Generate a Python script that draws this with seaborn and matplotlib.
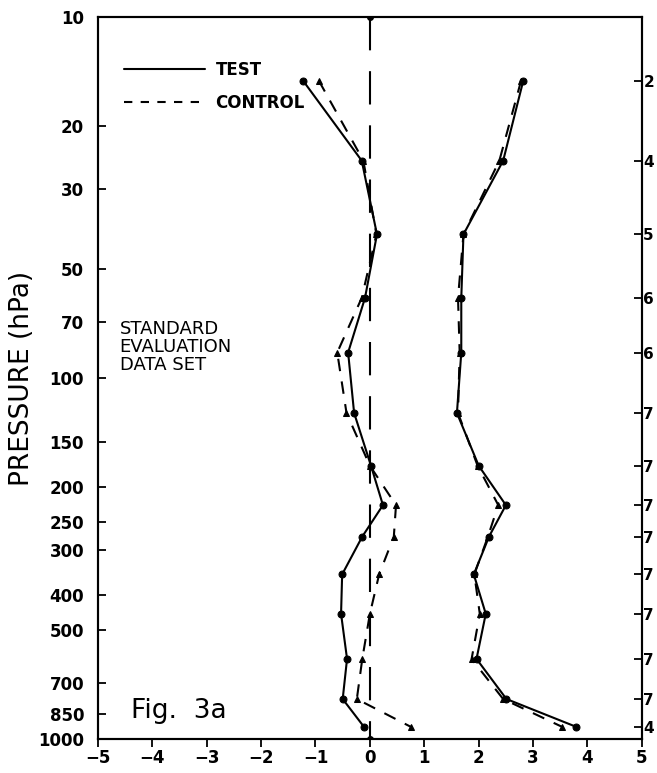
import numpy as np
import pandas as pd
import matplotlib
matplotlib.use('Agg')
import matplotlib.pyplot as plt
import seaborn as sns
from matplotlib.lines import Line2D
from matplotlib.ticker import NullLocator, FixedLocator, FixedFormatter

# niveles (punto medio de cada capa, hPa)
levels = [15, 25, 40, 60, 85, 125, 175, 225, 275, 350, 450, 600, 775, 925]

# sesgo (curvas de la izquierda)
bias_test = [-1.23, -0.15, 0.13, -0.09, -0.40, -0.29, 0.02, 0.24, -0.14, -0.51, -0.53, -0.42, -0.50, -0.11]
bias_control = [-0.94, -0.12, 0.12, -0.15, -0.60, -0.43, 0.00, 0.48, 0.44, 0.17, 0.00, -0.14, -0.24, 0.75]

# rms (curvas de la derecha)
rms_test = [2.82, 2.45, 1.72, 1.68, 1.68, 1.60, 2.00, 2.50, 2.19, 1.91, 2.13, 1.96, 2.51, 3.79]
rms_control = [2.78, 2.38, 1.72, 1.62, 1.65, 1.62, 1.98, 2.36, 2.17, 1.92, 2.02, 1.87, 2.45, 3.53]

# etiquetas del eje derecho (recortadas en el original)
right_labels = ['2', '4', '5', '6', '6', '7', '7', '7', '7', '7', '7', '7', '7', '4']

pressure_ticks = [10, 20, 30, 50, 70, 100, 150, 200, 250, 300, 400, 500, 700, 850, 1000]
x_ticks = [-5, -4, -3, -2, -1, 0, 1, 2, 3, 4, 5]
zero_line_x = [0, 0]
zero_line_p = [10, 1000]

sns.set_style('ticks')
plt.rcParams['font.family'] = ['DejaVu Sans']
plt.rcParams['text.color'] = 'black'
plt.rcParams['axes.labelcolor'] = 'black'
plt.rcParams['xtick.color'] = 'black'
plt.rcParams['ytick.color'] = 'black'
plt.rcParams['axes.edgecolor'] = 'black'

fig = plt.figure(figsize=(6.57, 7.73), dpi=100)
ax = fig.add_axes([0.149, 0.044, 0.828, 0.934])

def curve(x, y, ls, marker, ms):
    sns.lineplot(x=x, y=y, sort=False, estimator=None, ax=ax, color='black',
                 linestyle=ls, linewidth=1.5, marker=marker, markersize=ms,
                 markeredgecolor='black', markerfacecolor='black')

curve(bias_test, levels, '-', 'o', 5)
curve(bias_control, levels, (0, (6, 5)), '^', 5)
curve(rms_test, levels, '-', 'o', 5)
curve(rms_control, levels, (0, (6, 5)), '^', 5)

# linea vertical del cero
ax.plot(zero_line_x, zero_line_p, color='black', linewidth=1.5,
        linestyle=(0, (16, 10)), marker='o', markersize=4)

ax.set_yscale('log')
ax.set_ylim(1000, 10)
ax.set_xlim(-5, 5)
ax.yaxis.set_major_locator(FixedLocator(pressure_ticks))
ax.yaxis.set_major_formatter(FixedFormatter([str(p) for p in pressure_ticks]))
ax.yaxis.set_minor_locator(NullLocator())
ax.set_xticks(x_ticks)
ax.set_xticklabels(['\u22125', '\u22124', '\u22123', '\u22122', '\u22121', '0', '1', '2', '3', '4', '5'])
ax.tick_params(axis='y', direction='in', length=6, width=1.3, pad=10, labelsize=12)
ax.tick_params(axis='x', direction='out', length=6, width=1.3, pad=1, labelsize=12)
for lab in ax.get_xticklabels() + ax.get_yticklabels():
    lab.set_fontweight('bold')
for s in ax.spines.values():
    s.set_linewidth(1.5)
    s.set_visible(True)

ax.set_xlabel('')
ax.set_ylabel('PRESSURE (hPa)', fontsize=19, labelpad=2)

# eje derecho
ax2 = ax.twinx()
ax2.set_yscale('log')
ax2.set_ylim(1000, 10)
ax2.yaxis.set_major_locator(FixedLocator(levels))
ax2.yaxis.set_major_formatter(FixedFormatter(right_labels))
ax2.yaxis.set_minor_locator(NullLocator())
ax2.tick_params(axis='y', direction='in', length=6, width=1.3, pad=1, labelsize=11)
for lab in ax2.get_yticklabels():
    lab.set_fontweight('bold')
for s in ax2.spines.values():
    s.set_linewidth(1.5)

handles = [Line2D([], [], color='black', linewidth=1.5, linestyle='-'),
           Line2D([], [], color='black', linewidth=1.5, linestyle=(0, (4, 4)))]
ax.legend(handles, ['TEST', 'CONTROL'], loc='upper left', bbox_to_anchor=(0.02, 0.96),
          frameon=False, handlelength=4.9, handletextpad=0.6, labelspacing=0.9,
          prop={'size': 12, 'weight': 'bold'})

ax.text(0.04, 0.58, 'STANDARD\nEVALUATION\nDATA SET', transform=ax.transAxes,
        fontsize=13, va='top', ha='left', linespacing=1.0)
ax.text(0.06, 0.029, 'Fig.  3a', transform=ax.transAxes, fontsize=19, va='baseline', ha='left')

fig.savefig('out.png', dpi=100)
